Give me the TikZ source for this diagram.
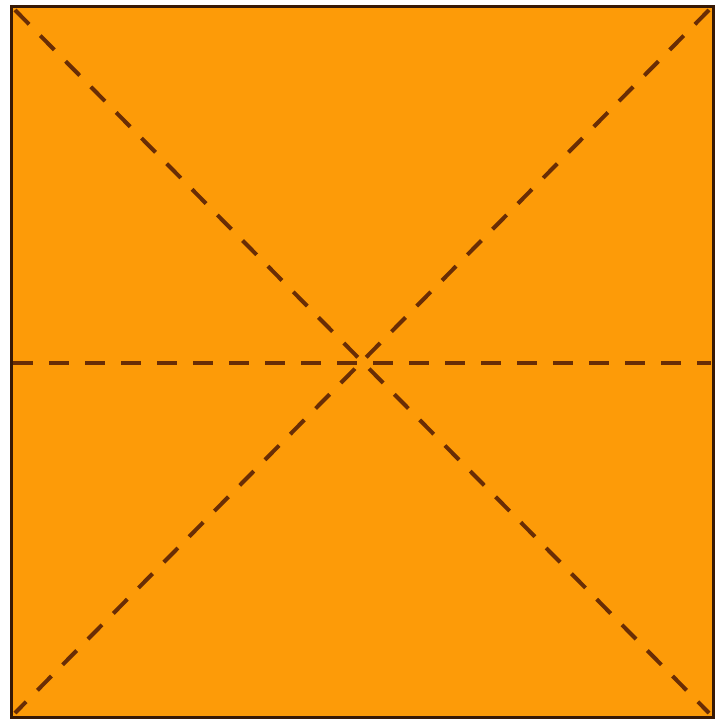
\documentclass[tikz,border=0pt]{standalone}
\definecolor{sqfill}{RGB}{253,155,8}
\definecolor{sqedge}{RGB}{55,25,5}
\definecolor{dashcol}{RGB}{105,45,5}
\tikzset{
  sqline/.style={draw=sqedge, line width=3pt, fill=sqfill},
  foldline/.style={draw=dashcol, line width=4pt, dash pattern=on 20pt off 16pt, line cap=butt}
}
\begin{document}
\begin{tikzpicture}[x=1pt,y=-1pt]
  \useasboundingbox[fill=white] (0,0) rectangle (720,726);
  \coordinate (tl) at (11,6);
  \coordinate (tr) at (713,6);
  \coordinate (bl) at (11,717);
  \coordinate (br) at (713,717);
  \coordinate (ml) at (11,363);
  \coordinate (mr) at (713,363);
  \draw[sqline] (tl) rectangle (br);
  \draw[foldline] ([shift={(4,4)}]tl) -- ([shift={(-4,-4)}]br);
  \draw[foldline] ([shift={(-4,4)}]tr) -- ([shift={(4,-4)}]bl);
  \draw[foldline] ([shift={(2,0)}]ml) -- ([shift={(-2,0)}]mr);
\end{tikzpicture}
\end{document}
